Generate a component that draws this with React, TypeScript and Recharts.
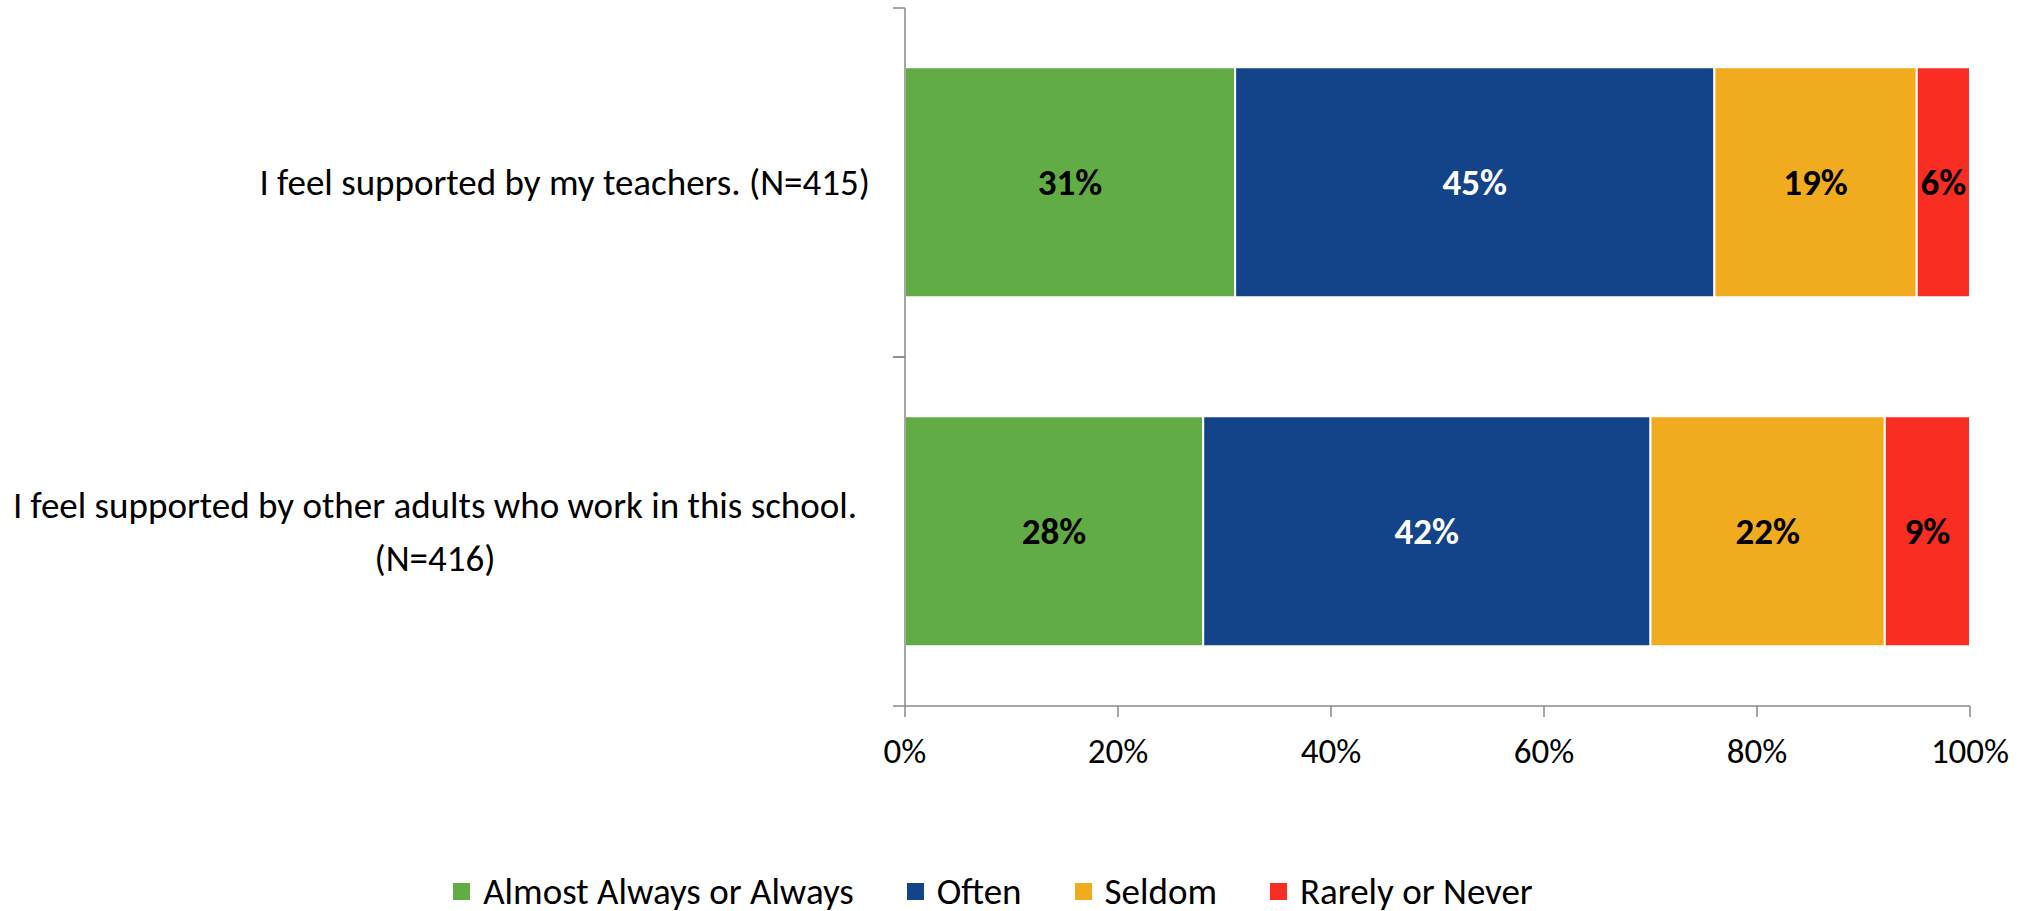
import { BarChart, Bar, XAxis, YAxis, Legend, LabelList } from 'recharts';

const CATEGORIES = [
    'I feel supported by my teachers. (N=415)',
    'I feel supported by other adults who work in this school. (N=416)',
];
const SERIES_NAMES = ['Almost Always or Always', 'Often', 'Seldom', 'Rarely or Never'];
const ALMOST_ALWAYS = [31, 28];
const OFTEN = [45, 42];
const SELDOM = [19, 22];
const RARELY = [6, 9];
const X_TICKS = [0, 20, 40, 60, 80, 100];

const KEYS = ['almost', 'often', 'seldom', 'rarely'];
const COLORS = ['#62ac46', '#134389', '#f0ab1e', '#f92d22'];
const LABEL_COLORS = ['#000', '#fff', '#000', '#000'];

const data = CATEGORIES.map((category, i) => ({
    category,
    almost: ALMOST_ALWAYS[i],
    often: OFTEN[i],
    seldom: SELDOM[i],
    rarely: RARELY[i],
}));

const FONT = "Carlito, Lato, 'Liberation Sans', sans-serif";
const FONT_SIZE = 37;
const TICK_FONT_SIZE = 35;
const AXIS_COLOR = '#898989';

const CHART_W = 2030;
const CHART_H = 911;
const MARGIN = { top: 8, right: 60, left: 0, bottom: 0 };
const Y_AXIS_W = 905;
const X_AXIS_H = 165;
const LEGEND_H = 40;
const PLOT_H = CHART_H - MARGIN.top - MARGIN.bottom - X_AXIS_H - LEGEND_H;
const BAND = PLOT_H / CATEGORIES.length;

function CategoryTick(props: any) {
    const { y, payload } = props;
    const half = BAND / 2;
    return (
        <g>
            <foreignObject x={0} y={y - half} width={870} height={BAND}>
                <div
                    style={{
                        height: '100%',
                        display: 'flex',
                        alignItems: 'center',
                        justifyContent: 'flex-end',
                    }}
                >
                    <div
                        style={{
                            textAlign: 'center',
                            lineHeight: '53px',
                            fontSize: FONT_SIZE,
                            fontFamily: FONT,
                            color: '#000',
                        }}
                    >
                        {payload.value}
                    </div>
                </div>
            </foreignObject>
            <line x1={Y_AXIS_W - 12} x2={Y_AXIS_W} y1={y - half} y2={y - half} stroke={AXIS_COLOR} strokeWidth={1.5} />
            <line x1={Y_AXIS_W - 12} x2={Y_AXIS_W} y1={y + half} y2={y + half} stroke={AXIS_COLOR} strokeWidth={1.5} />
        </g>
    );
}

function renderLegend() {
    return (
        <div
            style={{
                display: 'flex',
                justifyContent: 'center',
                alignItems: 'center',
                gap: 53,
                height: LEGEND_H,
                paddingLeft: 16,
                fontFamily: FONT,
                fontSize: FONT_SIZE,
                color: '#000',
            }}
        >
            {SERIES_NAMES.map((name, i) => (
                <div key={name} style={{ display: 'flex', alignItems: 'center' }}>
                    <div style={{ width: 17, height: 17, background: COLORS[i], marginRight: 13 }} />
                    <span>{name}</span>
                </div>
            ))}
        </div>
    );
}

export default function App() {
    return (
        <div style={{ position: 'absolute', left: 0, top: 0, background: '#fff' }}>
            <BarChart
                width={CHART_W}
                height={CHART_H}
                data={data}
                layout="vertical"
                margin={MARGIN}
                barCategoryGap="17%"
            >
                <XAxis
                    type="number"
                    domain={[0, 100]}
                    allowDataOverflow
                    ticks={X_TICKS}
                    tickFormatter={(v) => `${v}%`}
                    height={X_AXIS_H}
                    tickSize={11}
                    tickMargin={21}
                    stroke={AXIS_COLOR}
                    strokeWidth={1.5}
                    tick={{ fill: '#000', fontSize: TICK_FONT_SIZE, fontFamily: FONT }}
                />
                <YAxis
                    type="category"
                    dataKey="category"
                    width={Y_AXIS_W}
                    tickLine={false}
                    axisLine={{ stroke: AXIS_COLOR, strokeWidth: 1.5 }}
                    tick={<CategoryTick />}
                    interval={0}
                />
                <Legend verticalAlign="bottom" height={LEGEND_H} content={renderLegend} />
                {KEYS.map((key, i) => (
                    <Bar
                        key={key}
                        dataKey={key}
                        name={SERIES_NAMES[i]}
                        stackId="a"
                        fill={COLORS[i]}
                        stroke="#fff"
                        strokeWidth={2}
                        isAnimationActive={false}
                    >
                        <LabelList
                            dataKey={key}
                            position="center"
                            formatter={(v: any) => `${v}%`}
                            fill={LABEL_COLORS[i]}
                            style={{ fontSize: FONT_SIZE, fontWeight: 700, fontFamily: FONT }}
                        />
                    </Bar>
                ))}
            </BarChart>
        </div>
    );
}
